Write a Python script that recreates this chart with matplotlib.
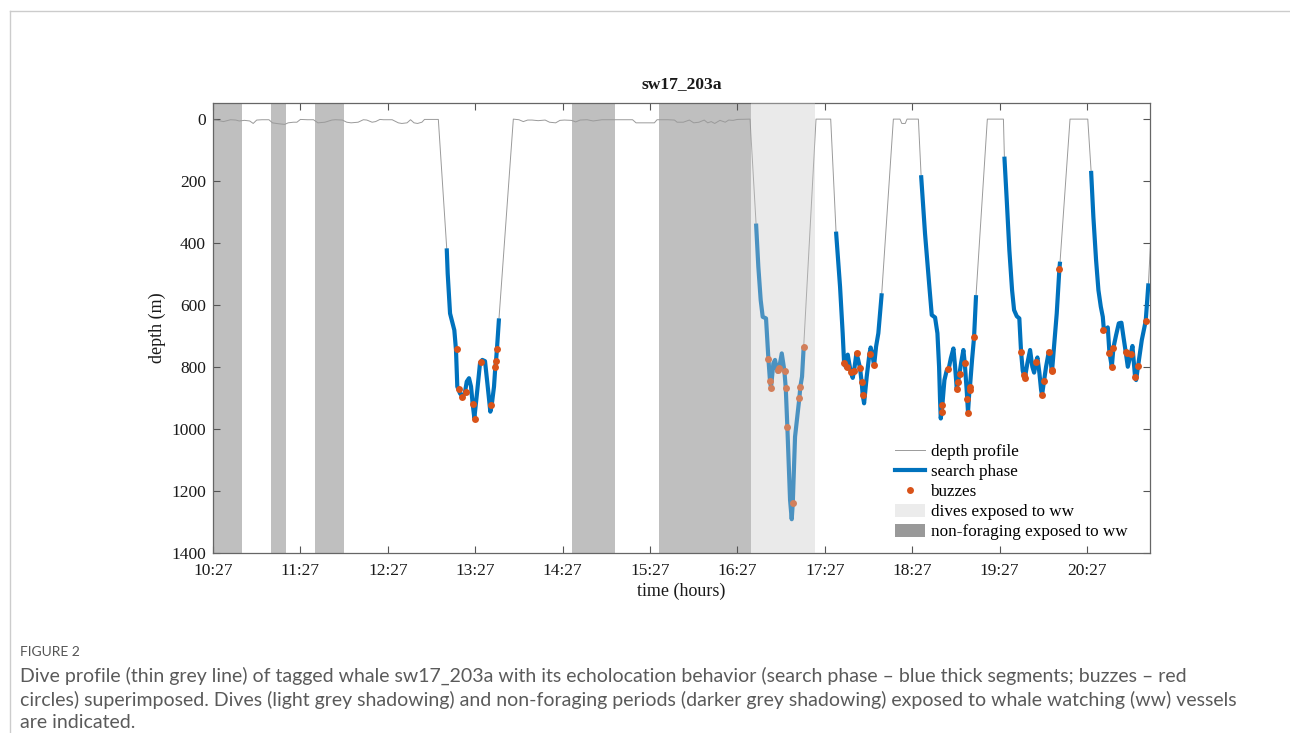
import numpy as np
import matplotlib
matplotlib.use('Agg')
import matplotlib.pyplot as plt
from matplotlib.lines import Line2D
from matplotlib.patches import Patch

# ==============================
# Data (time in hours after 10:27, depth in m)
# ==============================

tick_hours = [0, 1, 2, 3, 4, 5, 6, 7, 8, 9, 10]
tick_labels = ['10:27', '11:27', '12:27', '13:27', '14:27', '15:27',
               '16:27', '17:27', '18:27', '19:27', '20:27']

# shaded periods
nonforaging_ww = [(0.0, 0.33), (0.66, 0.84), (1.17, 1.50), (4.11, 4.60), (5.10, 6.16)]
dives_ww = [(6.16, 6.89)]

# surface periods of the depth profile
surf0_t = [0, 0.05, 0.12, 0.2, 0.26, 0.3, 0.36, 0.42, 0.46, 0.5, 0.56, 0.64, 0.68,
           0.75, 0.82, 0.86, 0.92, 0.96, 1.0, 1.08, 1.15, 1.2, 1.28, 1.36, 1.4, 1.48,
           1.53, 1.58, 1.66, 1.72, 1.76, 1.82, 1.86, 1.91, 1.95, 2.05, 2.12, 2.16,
           2.22, 2.26, 2.3, 2.34, 2.39, 2.42, 2.578]
surf0_d = [3, 4, 8, 2, 3, 6, 4, 6, 14, 3, 2, 2, 12, 15, 17, 12, 10, 10, 1, 2, 2, 12,
           10, 3, 2, 3, 10, 12, 10, 2, 3, 10, 8, 1, 2, 2, 12, 14, 12, 2, 12, 14, 10, 1, 1]
surf1_t = [3.436, 3.5, 3.55, 3.6, 3.65, 3.72, 3.8, 3.85, 3.92, 3.97, 4.02, 4.1, 4.15,
           4.2, 4.28, 4.35, 4.45, 4.6, 4.8, 4.84, 5.05, 5.08, 5.2, 5.28, 5.31, 5.38,
           5.45, 5.5, 5.56, 5.62, 5.66, 5.7, 5.74, 5.8, 5.86, 5.9, 5.95, 6.0, 6.144]
surf1_d = [0, 2, 8, 3, 3, 5, 3, 10, 12, 4, 3, 4, 9, 3, 2, 6, 2, 2, 2, 12, 12, 2, 2, 3,
           10, 10, 3, 12, 10, 3, 12, 8, 14, 4, 10, 3, 4, 1, 0]
surf2_t = [6.899, 7.067]
surf2_d = [0, 0]
surf3_t = [7.784, 7.86, 7.88, 7.92, 7.94, 8.07]
surf3_d = [0, 0, 14, 14, 0, 0]
surf4_t = [8.859, 9.043]
surf4_d = [0, 0]
surf5_t = [9.805, 10.008]
surf5_d = [0, 0]
surf6_t = [10.80]
surf6_d = [0]

# search phases
dive1_t = [2.674, 2.685, 2.712, 2.761, 2.780, 2.795, 2.826, 2.857, 2.883, 2.903, 2.929,
           2.952, 2.971, 2.990, 3.024, 3.055, 3.081, 3.112, 3.143, 3.173, 3.189, 3.215,
           3.23, 3.238, 3.249, 3.272]
dive1_d = [417, 498, 627, 681, 745, 863, 885, 896, 881, 847, 836, 863, 919, 965, 874,
           787, 777, 781, 863, 944, 922, 863, 799, 780, 740, 643]
dive2_t = [6.213, 6.239, 6.266, 6.289, 6.327, 6.354, 6.373, 6.384, 6.411, 6.43, 6.457,
           6.48, 6.507, 6.537, 6.553, 6.571, 6.602, 6.621, 6.633, 6.659, 6.708, 6.72,
           6.739, 6.758]
dive2_d = [337, 476, 584, 638, 643, 772, 847, 866, 788, 777, 815, 799, 756, 812, 869,
           993, 1229, 1291, 1240, 1025, 901, 863, 831, 734]
dive3_t = [7.128, 7.174, 7.204, 7.220, 7.24, 7.262, 7.28, 7.296, 7.319, 7.334, 7.361,
           7.38, 7.403, 7.422, 7.433, 7.449, 7.479, 7.509, 7.524, 7.545, 7.563, 7.586,
           7.612, 7.651]
dive3_d = [363, 541, 691, 785, 800, 760, 790, 815, 835, 813, 756, 775, 804, 851, 890,
           917, 831, 760, 737, 760, 796, 734, 691, 562]
dive4_t = [8.101, 8.146, 8.196, 8.223, 8.261, 8.288, 8.307, 8.318, 8.326, 8.337, 8.345,
           8.368, 8.395, 8.418, 8.441, 8.471, 8.49, 8.509, 8.524, 8.54, 8.558, 8.585,
           8.601, 8.624, 8.638, 8.654, 8.661, 8.684, 8.707, 8.730]
dive4_d = [181, 369, 541, 632, 640, 691, 799, 906, 966, 944, 920, 842, 810, 804, 772,
           740, 799, 869, 847, 823, 788, 745, 788, 880, 946, 874, 861, 777, 704, 568]
dive5_t = [9.054, 9.081, 9.111, 9.142, 9.165, 9.196, 9.225, 9.245, 9.264, 9.279, 9.291,
           9.317, 9.348, 9.374, 9.394, 9.416, 9.432, 9.455, 9.474, 9.485, 9.508, 9.531,
           9.562, 9.577, 9.592, 9.60, 9.622, 9.653, 9.683, 9.691]
dive5_d = [121, 261, 423, 552, 616, 636, 643, 751, 812, 826, 831, 788, 745, 799, 818,
           783, 769, 820, 874, 890, 844, 799, 751, 756, 804, 810, 734, 627, 485, 460]
dive6_t = [10.046, 10.072, 10.103, 10.130, 10.157, 10.18, 10.192, 10.214, 10.237,
           10.256, 10.283, 10.302, 10.332, 10.363, 10.393, 10.416, 10.443, 10.466, 10.50,
           10.519, 10.549, 10.561, 10.584, 10.626, 10.671, 10.702]
dive6_d = [167, 315, 455, 552, 605, 638, 679, 681, 672, 754, 799, 737, 697, 659, 657,
           702, 753, 799, 758, 732, 831, 842, 796, 713, 651, 530]

# buzzes
buzz1_t = [2.788, 2.815, 2.853, 2.891, 2.971, 2.998, 3.066, 3.185, 3.23, 3.242, 3.253]
buzz1_d = [743, 872, 898, 881, 918, 968, 785, 922, 801, 780, 741]
buzz2_t = [6.354, 6.377, 6.384, 6.461, 6.48, 6.548, 6.556, 6.571, 6.636, 6.705, 6.72, 6.762]
buzz2_d = [773, 846, 869, 810, 802, 813, 869, 992, 1239, 901, 863, 735]
buzz3_t = [7.223, 7.25, 7.296, 7.334, 7.365, 7.403, 7.422, 7.433, 7.517, 7.563]
buzz3_d = [788, 799, 815, 813, 756, 804, 849, 890, 758, 795]
buzz4_t = [8.345, 8.341, 8.413, 8.512, 8.524, 8.543, 8.6, 8.627, 8.642, 8.658, 8.661, 8.703]
buzz4_d = [922, 945, 805, 870, 847, 823, 788, 903, 947, 874, 863, 704]
buzz5_t = [9.245, 9.279, 9.291, 9.42, 9.481, 9.508, 9.565, 9.596, 9.603, 9.683]
buzz5_d = [751, 825, 836, 784, 890, 844, 751, 808, 812, 485]
buzz6_t = [10.187, 10.256, 10.286, 10.301, 10.446, 10.458, 10.50, 10.549, 10.58, 10.675]
buzz6_d = [679, 754, 799, 737, 753, 756, 758, 832, 796, 652]

dives_t = [dive1_t, dive2_t, dive3_t, dive4_t, dive5_t, dive6_t]
dives_d = [dive1_d, dive2_d, dive3_d, dive4_d, dive5_d, dive6_d]
surf_t = [surf0_t, surf1_t, surf2_t, surf3_t, surf4_t, surf5_t, surf6_t]
surf_d = [surf0_d, surf1_d, surf2_d, surf3_d, surf4_d, surf5_d, surf6_d]
buzz_t = buzz1_t + buzz2_t + buzz3_t + buzz4_t + buzz5_t + buzz6_t
buzz_d = buzz1_d + buzz2_d + buzz3_d + buzz4_d + buzz5_d + buzz6_d

# full depth profile: surface, dive, surface, ...
prof_t, prof_d = [], []
for i in range(len(surf_t)):
    prof_t += surf_t[i]
    prof_d += surf_d[i]
    if i < len(dives_t):
        prof_t += dives_t[i]
        prof_d += dives_d[i]

# ==============================
# Plot
# ==============================

plt.rcParams['font.family'] = ['Liberation Serif', 'DejaVu Serif']
plt.rcParams['font.size'] = 12.5

fig = plt.figure(figsize=(12.9, 7.33), dpi=100)
ax = fig.add_axes([213 / 1290, 1 - 553 / 733, 937 / 1290, 450 / 733])

for a, b in nonforaging_ww:
    ax.axvspan(a, b, color='#bfbfbf', lw=0, zorder=0)

ax.plot(prof_t, prof_d, color='#9a9a9a', lw=0.7, zorder=2)
for t, d in zip(dives_t, dives_d):
    ax.plot(t, d, color='#0072BD', lw=3.0, zorder=3, solid_capstyle='butt')
ax.plot(buzz_t, buzz_d, 'o', color='#D95319', ms=5, mew=0, zorder=4)

for a, b in dives_ww:
    ax.axvspan(a, b, facecolor='#c8c8c8', alpha=0.38, lw=0, zorder=5)

ax.set_xlim(0, 10.72)
ax.set_ylim(1400, -52)
ax.set_xticks(tick_hours)
ax.set_xticklabels(tick_labels)
ax.set_yticks(range(0, 1401, 200))
ax.tick_params(direction='in', length=5, width=0.8, top=True, right=True,
               color='#555555', labelcolor='#1a1a1a', labelsize=12.5)
ax.tick_params(axis='x', pad=7)
ax.tick_params(axis='y', pad=5)
for s in ax.spines.values():
    s.set_color('#666666')
    s.set_linewidth(0.9)

ax.set_title('sw17_203a', fontweight='bold', fontsize=12.6, pad=11, color='#1a1a1a')
ax.set_xlabel('time (hours)', fontsize=13, labelpad=3, color='#1a1a1a')
ax.set_ylabel('depth (m)', fontsize=13, labelpad=4, color='#1a1a1a')

handles = [
    Line2D([], [], color='#9a9a9a', lw=0.7),
    Line2D([], [], color='#0072BD', lw=3.0),
    Line2D([], [], ls='none', marker='o', color='#D95319', ms=5, mew=0),
    Patch(facecolor='#ececec', edgecolor='none'),
    Patch(facecolor='#999999', edgecolor='none'),
]
names = ['depth profile', 'search phase', 'buzzes', 'dives exposed to ww',
         'non-foraging exposed to ww']
ax.legend(handles, names, loc='lower right', bbox_to_anchor=(0.992, -0.006),
          frameon=False, fontsize=12.3, handlelength=1.8, handleheight=0.85,
          handletextpad=0.3, labelspacing=0.19)

# frame lines and caption
fig.add_artist(Line2D([10 / 1290, 1], [1 - 11 / 733, 1 - 11 / 733], color='#cccccc', lw=1))
fig.add_artist(Line2D([10 / 1290, 10 / 1290], [1 - 11 / 733, 0], color='#cccccc', lw=1))

cap_font = ['Lato', 'DejaVu Sans']
fig.text(20 / 1290, 1 - 652 / 733, 'FIGURE 2', family=cap_font, fontsize=10,
         color='#555555', va='center')
caption = [
    'Dive profile (thin grey line) of tagged whale sw17_203a with its echolocation behavior (search phase \u2013 blue thick segments; buzzes \u2013 red',
    'circles) superimposed. Dives (light grey shadowing) and non-foraging periods (darker grey shadowing) exposed to whale watching (ww) vessels',
    'are indicated.',
]
for i, line in enumerate(caption):
    fig.text(20 / 1290, 1 - (676 + 23.5 * i) / 733, line, family=cap_font, fontsize=14,
             color='#5a5a5a', va='center')

fig.savefig('out.png', dpi=100)
